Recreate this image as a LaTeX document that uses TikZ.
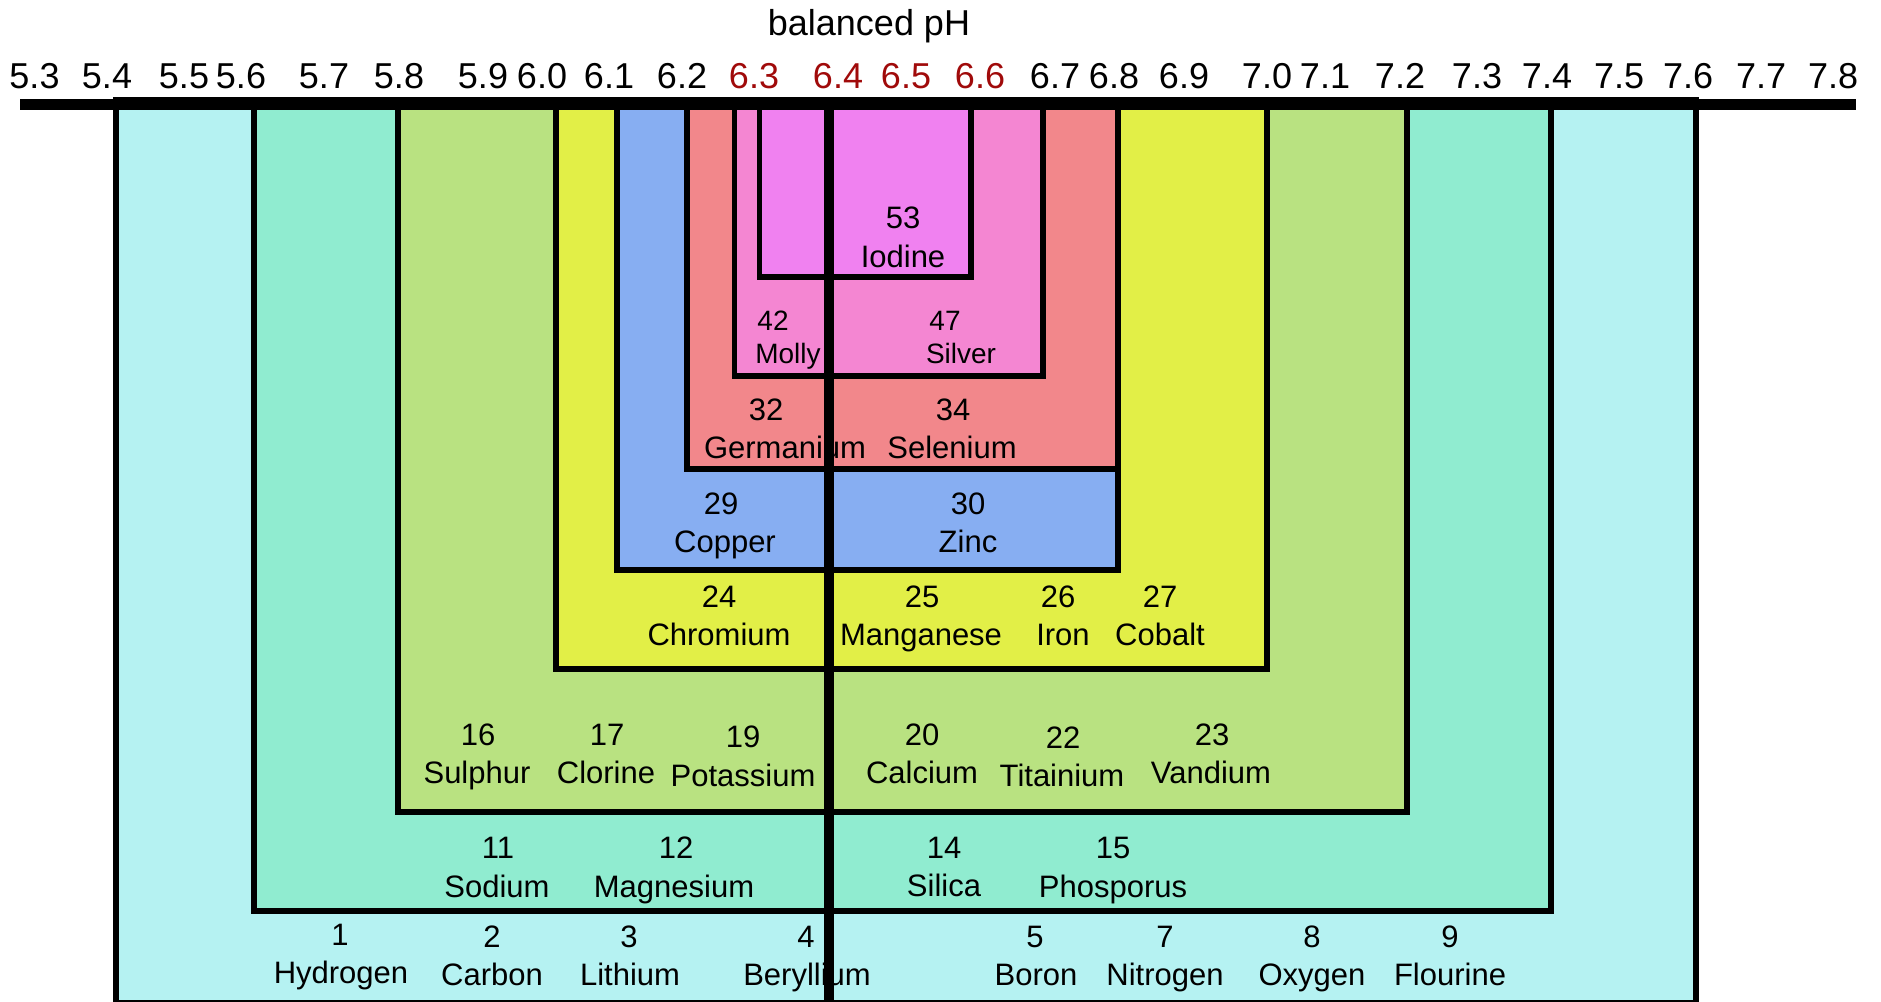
\documentclass[tikz,border=0pt]{standalone}
\usepackage{fontspec}
\setmainfont{Liberation Sans}
\definecolor{zcyan}{HTML}{B5F2F2}
\definecolor{zteal}{HTML}{90ECD0}
\definecolor{zgreen}{HTML}{B9E281}
\definecolor{zyellow}{HTML}{E2EF47}
\definecolor{zblue}{HTML}{87AEF2}
\definecolor{zsalmon}{HTML}{F2878B}
\definecolor{zpink}{HTML}{F486D2}
\definecolor{zmagenta}{HTML}{F081F0}
\definecolor{phred}{HTML}{A00A0A}
\newcommand\elem[8]{\node[#1] (#2a) at (#3,#4) {#5}; \node[#1] (#2b) at (#6,#7) {#8};}
\newcommand\tk[3][tick]{\node[#1] (t#2) at (#3,88) {#2};}
\begin{document}
\begin{tikzpicture}[x=1pt,y=-1pt,
  zone/.style={draw=black,line width=5.5pt},
  tick/.style={font=\fontsize{36}{40}\selectfont,anchor=base,inner sep=0pt},
  tickred/.style={tick,text=phred},
  lbl/.style={font=\fontsize{31}{38}\selectfont,anchor=base,inner sep=0pt},
  slbl/.style={font=\fontsize{28}{33}\selectfont,anchor=base,inner sep=0pt}]
\useasboundingbox (0,0) rectangle (1881,1001);
\clip (0,0) rectangle (1881,1001);
% nested zones
\filldraw[zone,fill=zcyan]    (116,100) rectangle (1696,1002.5);
\filldraw[zone,fill=zteal]    (254,100) rectangle (1551,911);
\filldraw[zone,fill=zgreen]   (398,100) rectangle (1407,812);
\filldraw[zone,fill=zyellow]  (556,100) rectangle (1267,669);
\filldraw[zone,fill=zblue]    (617,100) rectangle (1118,570);
\filldraw[zone,fill=zsalmon]  (687,100) rectangle (1118,469);
\filldraw[zone,fill=zpink]    (734.5,100) rectangle (1043,376);
\filldraw[zone,fill=zmagenta] (759.5,100) rectangle (971,277);
% title and scale
\node[tick] (title) at (869,35) {balanced pH};
\tk{5.3}{34.5}\tk{5.4}{107}\tk{5.5}{184}\tk{5.6}{241}\tk{5.7}{324}
\tk{5.8}{399}\tk{5.9}{483}\tk{6.0}{542}\tk{6.1}{609}\tk{6.2}{682}
\tk[tickred]{6.3}{754}\tk[tickred]{6.4}{838}\tk[tickred]{6.5}{906}\tk[tickred]{6.6}{980}
\tk{6.7}{1055}\tk{6.8}{1114}\tk{6.9}{1184}\tk{7.0}{1267}\tk{7.1}{1325}
\tk{7.2}{1400}\tk{7.3}{1477}\tk{7.4}{1547}\tk{7.5}{1619}\tk{7.6}{1688}
\tk{7.7}{1761}\tk{7.8}{1833}
% labels
\elem{lbl}{I}{903}{228}{53}{903}{267}{Iodine}
\elem{slbl}{Mo}{773}{330}{42}{788}{363}{Molly}
\elem{slbl}{Ag}{945}{330}{47}{961}{363}{Silver}
\elem{lbl}{Ge}{766}{420}{32}{785}{458}{Germanium}
\elem{lbl}{Se}{953}{420}{34}{952}{458}{Selenium}
\elem{lbl}{Cu}{721}{514}{29}{725}{552}{Copper}
\elem{lbl}{Zn}{968}{514}{30}{968}{552}{Zinc}
\elem{lbl}{Cr}{719}{607}{24}{719}{645}{Chromium}
\elem{lbl}{Mn}{922}{607}{25}{921}{645}{Manganese}
\elem{lbl}{Fe}{1058}{607}{26}{1063}{645}{Iron}
\elem{lbl}{Co}{1160}{607}{27}{1160}{645}{Cobalt}
\elem{lbl}{S}{478}{745}{16}{477}{783}{Sulphur}
\elem{lbl}{Cl}{607}{745}{17}{606}{783}{Clorine}
\elem{lbl}{K}{743}{747}{19}{743}{786}{Potassium}
\elem{lbl}{Ca}{922}{745}{20}{922}{783}{Calcium}
\elem{lbl}{Ti}{1063}{748}{22}{1062}{786}{Titainium}
\elem{lbl}{V}{1212}{745}{23}{1211}{783}{Vandium}
\elem{lbl}{Na}{498}{858}{11}{497}{897}{Sodium}
\elem{lbl}{Mg}{676}{858}{12}{674}{897}{Magnesium}
\elem{lbl}{Si}{944}{858}{14}{944}{896}{Silica}
\elem{lbl}{P}{1113}{858}{15}{1113}{897}{Phosporus}
\elem{lbl}{H}{340}{945}{1}{341}{983}{Hydrogen}
\elem{lbl}{C}{492}{947}{2}{492}{985}{Carbon}
\elem{lbl}{Li}{629}{947}{3}{630}{985}{Lithium}
\elem{lbl}{Be}{806}{947}{4}{807}{985}{Beryllium}
\elem{lbl}{B}{1035}{947}{5}{1036}{985}{Boron}
\elem{lbl}{N}{1165}{947}{7}{1165}{985}{Nitrogen}
\elem{lbl}{O}{1312}{947}{8}{1312}{985}{Oxygen}
\elem{lbl}{F}{1450}{947}{9}{1450}{985}{Flourine}
% balance axis and bar
\coordinate (axtop) at (829,105);
\coordinate (axbot) at (829,1001);
\draw[line width=10pt] (axtop) -- (axbot);
\fill (20,99) rectangle (1856,110);
\end{tikzpicture}
\end{document}
